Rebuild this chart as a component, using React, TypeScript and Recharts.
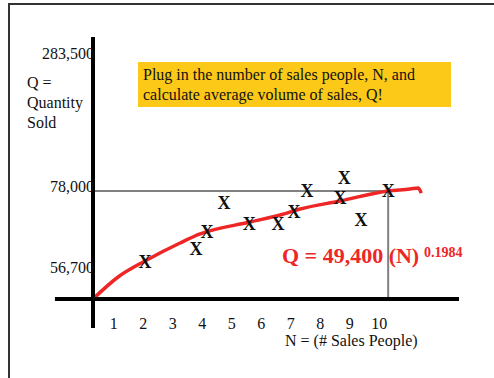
import React from "react";
import {
  ComposedChart,
  Line,
  Scatter,
  XAxis,
  YAxis,
  ReferenceLine,
} from "recharts";

// sales people (N) vs. quantity sold (Q), observed points
const salesPeople = [2.06, 3.79, 4.16, 4.74, 5.59, 6.57, 7.11, 7.55, 8.67, 8.81, 9.38, 10.3];
const quantitySold = [56300, 60300, 65450, 74300, 67900, 67900, 71560, 77970, 75840, 81940, 69120, 78000];

// hand-drawn fitted curve, Q = 49,400 N^0.1984
const curveN = [0.3, 1.15, 2.06, 3.25, 3.93, 5.62, 6.64, 7.32, 8.67, 10.3, 11.04, 11.32, 11.42];
const curveQ = [45000, 51720, 56600, 62100, 64850, 68500, 70650, 72480, 74920, 78000, 78580, 78890, 77360];

const xTicks = [1, 2, 3, 4, 5, 6, 7, 8, 9, 10];
const yTickValues = [56700, 78000, 120100];
const yTickLabels = ["56,700", "78,000", "283,500"];
const yTickNudge = [7, -4, 0];

const N_MIN = 0.3;
const N_MAX = 12.7;
const Q_MIN = 45000;
const Q_MAX = 125000;
const TARGET_N = 10.3;
const TARGET_Q = 78000;

const points = salesPeople.map((n, i) => ({ n, q: quantitySold[i] }));
const curve = curveN.map((n, i) => ({ n, q: curveQ[i] }));

const SERIF = '"Liberation Serif", "Times New Roman", serif';
const RED = "#ee2626";

const XMark = (props: any) => {
  const { cx, cy } = props;
  if (cx == null || cy == null) return null;
  return (
    <text
      x={cx}
      y={cy}
      textAnchor="middle"
      dominantBaseline="central"
      fontFamily={SERIF}
      fontWeight="bold"
      fontSize={18}
      fill="#111"
    >
      X
    </text>
  );
};

const XTick = ({ x, y, payload }: any) => (
  <text x={x} y={y + 30} textAnchor="middle" fontFamily={SERIF} fontSize={16} fill="#111">
    {payload.value}
  </text>
);

const YTick = ({ x, y, payload }: any) => {
  const i = yTickValues.indexOf(payload.value);
  return (
    <text x={x + 1} y={y + 5.5 + yTickNudge[i]} textAnchor="end" fontFamily={SERIF} fontSize={16} fill="#111">
      {yTickLabels[i]}
    </text>
  );
};

export default function App() {
  return (
    <div
      style={{
        position: "absolute",
        left: 0,
        top: 0,
        width: 494,
        height: 378,
        background: "#fff",
        fontFamily: SERIF,
        color: "#111",
        overflow: "hidden",
      }}
    >
      {/* slide frame */}
      <div style={{ position: "absolute", left: 8, top: 3, width: 490, height: 380, borderLeft: "2px solid #333", borderTop: "2px solid #333" }} />

      <ComposedChart
        width={494}
        height={378}
        margin={{ top: 37, right: 35, bottom: 0, left: 0 }}
        style={{ position: "absolute", left: 0, top: 0 }}
      >
        <XAxis
          dataKey="n"
          type="number"
          domain={[N_MIN, N_MAX]}
          ticks={xTicks}
          interval={0}
          axisLine={false}
          tickLine={false}
          tickSize={0}
          tickMargin={0}
          height={79}
          tick={<XTick />}
          allowDataOverflow
        />
        <YAxis
          dataKey="q"
          type="number"
          domain={[Q_MIN, Q_MAX]}
          ticks={yTickValues}
          interval={0}
          axisLine={false}
          tickLine={false}
          tickSize={0}
          tickMargin={0}
          width={93}
          tick={<YTick />}
          allowDataOverflow
        />
        {/* guide to N = 10, Q = 78,000 */}
        <ReferenceLine
          segment={[{ x: N_MIN, y: TARGET_Q }, { x: TARGET_N, y: TARGET_Q }]}
          stroke="#808080"
          strokeWidth={2}
          ifOverflow="visible"
        />
        <ReferenceLine
          segment={[{ x: TARGET_N, y: TARGET_Q }, { x: TARGET_N, y: Q_MIN }]}
          stroke="#808080"
          strokeWidth={2}
          ifOverflow="visible"
        />
        <Line
          data={curve}
          dataKey="q"
          type="monotone"
          stroke={RED}
          strokeWidth={3.5}
          dot={false}
          isAnimationActive={false}
        />
        <Scatter data={points} dataKey="q" shape={<XMark />} isAnimationActive={false} />
        {/* heavy axes, crossing past each other at the origin */}
        <ReferenceLine
          segment={[{ x: -0.99, y: Q_MIN }, { x: N_MAX, y: Q_MIN }]}
          stroke="#000"
          strokeWidth={4}
          ifOverflow="visible"
        />
        <ReferenceLine
          segment={[{ x: N_MIN, y: 36150 }, { x: N_MIN, y: Q_MAX }]}
          stroke="#000"
          strokeWidth={4}
          ifOverflow="visible"
        />
      </ComposedChart>

      {/* y-axis title */}
      <div style={{ position: "absolute", left: 27, top: 73, fontSize: 16, lineHeight: "20px" }}>
        Q =<br />
        Quantity<br />
        Sold
      </div>

      {/* callout */}
      <div
        style={{
          position: "absolute",
          left: 138,
          top: 62,
          width: 313,
          height: 45,
          boxSizing: "border-box",
          padding: "3px 5px",
          background: "#fdc918",
          fontSize: 16,
          lineHeight: "19.5px",
        }}
      >
        Plug in the number of sales people, N, and
        <br />
        calculate average volume of sales, Q!
      </div>

      {/* fitted equation */}
      <div style={{ position: "absolute", left: 282, top: 245, fontSize: 22, lineHeight: "22px", fontWeight: "bold", color: RED, whiteSpace: "nowrap" }}>
        Q = 49,400 (N)
      </div>
      <div style={{ position: "absolute", left: 424, top: 246, fontSize: 14, lineHeight: "14px", fontWeight: "bold", color: RED }}>
        0.1984
      </div>

      {/* x-axis title */}
      <div style={{ position: "absolute", left: 285, top: 331, fontSize: 16, lineHeight: "20px", whiteSpace: "nowrap" }}>
        N = (# Sales People)
      </div>
    </div>
  );
}
